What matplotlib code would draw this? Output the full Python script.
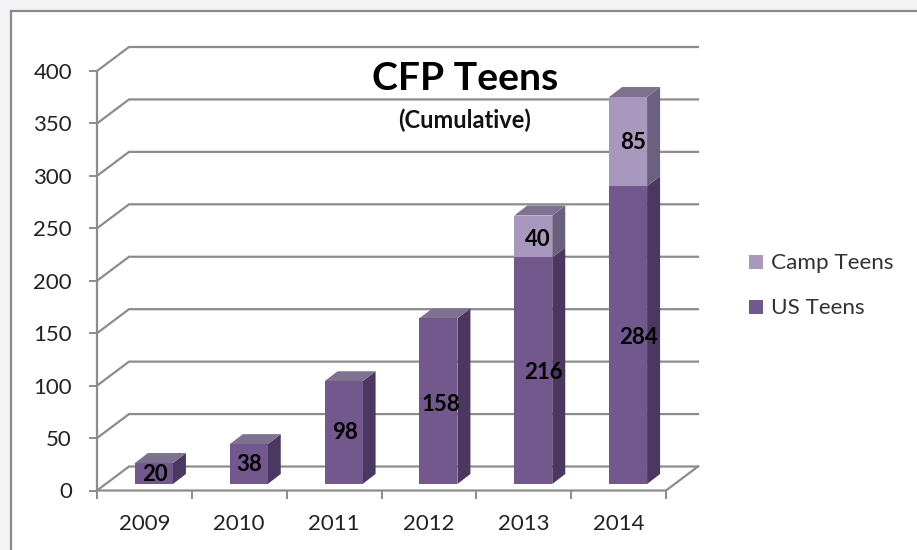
import matplotlib
matplotlib.use('Agg')
import matplotlib.pyplot as plt
from matplotlib.patches import Polygon, Rectangle

years = ['2009', '2010', '2011', '2012', '2013', '2014']
us_teens = [20, 38, 98, 158, 216, 284]
camp_teens = [0, 0, 0, 0, 40, 85]
yticks = [0, 50, 100, 150, 200, 250, 300, 350, 400]

# label nudges in pixels, the labels are not quite centred in the original
us_nudge = [(1, -1), (0, 0), (1, 0), (2, -3), (10, -2), (10, -2)]
camp_nudge = [(0, 0), (0, 0), (0, 0), (0, 0), (5, -3), (5, -1)]

plt.rcParams['font.family'] = ['Lato', 'DejaVu Sans']

W, H = 917, 550
# front plane of the fake 3d box, in pixels
LEFT, RIGHT, TOP, BOTTOM = 97, 666, 71, 490.5
GRID = '#8c8c8c'
US = '#72588d'
US_SIDE = '#4a3860'
CAMP = '#a998bd'
CAMP_SIDE = '#6c6080'
TOP_FACE = '#7f7290'

fig = plt.figure(figsize=(W / 100, H / 100), dpi=100, facecolor='#f3f3f5')
# frame runs off the picture on the right and at the bottom
fig.add_artist(Rectangle((11 / W, -0.1), 1, 1.1 - 11 / H, transform=fig.transFigure,
                         fc='white', ec='#8a8a8a', lw=1.6, zorder=-5))

ax = fig.add_axes([LEFT / W, 1 - BOTTOM / H, (RIGHT - LEFT) / W, (BOTTOM - TOP) / H])
ax.set_xlim(-0.5, 5.5)
ax.set_ylim(0, 400)
ax.patch.set_visible(False)
for s in ax.spines.values():
    s.set_visible(False)

px_x = 6 / (RIGHT - LEFT)  # data units per pixel
px_y = 400 / (BOTTOM - TOP)


def dx(p):
    return p * px_x


def dy(p):
    return p * px_y


# box depth
bx, by = dx(32), dy(24)
for v in yticks:
    ax.plot([-0.5, -0.5 + bx, 5.5 + bx], [v, v + by, v + by], color=GRID, lw=1.6,
            clip_on=False, zorder=1, solid_joinstyle='miter')
ax.plot([-0.5, 5.5, 5.5 + bx], [0, 0, by], color=GRID, lw=1.6, clip_on=False, zorder=1)
ax.plot([-0.5, -0.5], [0, 400], color=GRID, lw=1.6, clip_on=False, zorder=1)

ax.set_xticks([i - 0.5 for i in range(7)])
ax.set_xticklabels([])
ax.set_yticks(yticks)
ax.tick_params(axis='y', length=6, width=1.4, color=GRID, labelsize=16,
               labelcolor='#222222', pad=12)
ax.tick_params(axis='x', length=6, width=1.4, color=GRID)
for i, y in enumerate(years):
    ax.annotate(y, (i, 0), xytext=(0, -34), textcoords='offset pixels', ha='center',
                va='center', fontsize=16, color='#222222', annotation_clip=False)


def bar(i, y0, y1, front, side, top=None):
    # front face sits a bit behind the front plane, like excel does it
    x0 = i + dx(9.5) - dx(19)
    x1 = i + dx(9.5) + dx(19)
    sx, sy = dx(13), dy(10)
    base = dy(6.5)
    ax.add_patch(Polygon([(x1, base + y0), (x1 + sx, base + y0 + sy), (x1 + sx, base + y1 + sy),
                          (x1, base + y1)], fc=side, ec='none', zorder=3, clip_on=False))
    ax.add_patch(Rectangle((x0, base + y0), x1 - x0, y1 - y0, fc=front, ec='none', zorder=4,
                           clip_on=False))
    if top:
        ax.add_patch(Polygon([(x0, base + y1), (x1, base + y1), (x1 + sx, base + y1 + sy),
                              (x0 + sx, base + y1 + sy)], fc=top, ec='none', zorder=3,
                             clip_on=False))
    return (x0 + x1) / 2, base + (y0 + y1) / 2


def label(cx, cy, val, nudge):
    ax.text(cx + dx(nudge[0]), cy + dy(nudge[1]), str(val), ha='center', va='center',
            fontsize=16, fontweight='bold', color='black', zorder=6)


for i in range(len(years)):
    u = us_teens[i]
    c = camp_teens[i]
    cx, cy = bar(i, 0, u, US, US_SIDE, None if c else TOP_FACE)
    label(cx, cy, u, us_nudge[i])
    if c:
        cx, cy = bar(i, u, u + c, CAMP, CAMP_SIDE, TOP_FACE)
        label(cx, cy, c, camp_nudge[i])

fig.text(465.5 / W, 1 - 78 / H, 'CFP Teens', ha='center', va='center', fontsize=28.2,
         fontweight='bold', color='black')
fig.text(464.5 / W, 1 - 120 / H, '(Cumulative)', ha='center', va='center', fontsize=17,
         fontweight='bold', color='#111111')

# legend
for name, col, y in [('Camp Teens', CAMP, 262), ('US Teens', US, 307)]:
    fig.add_artist(Rectangle((749 / W, 1 - (y + 7) / H), 14 / W, 14 / H, fc=col, ec='none',
                             transform=fig.transFigure))
    fig.text(771 / W, 1 - (y + 1) / H, name, ha='left', va='center', fontsize=16.2,
             color='#333333')

fig.savefig('out.png', dpi=100, facecolor=fig.get_facecolor())
